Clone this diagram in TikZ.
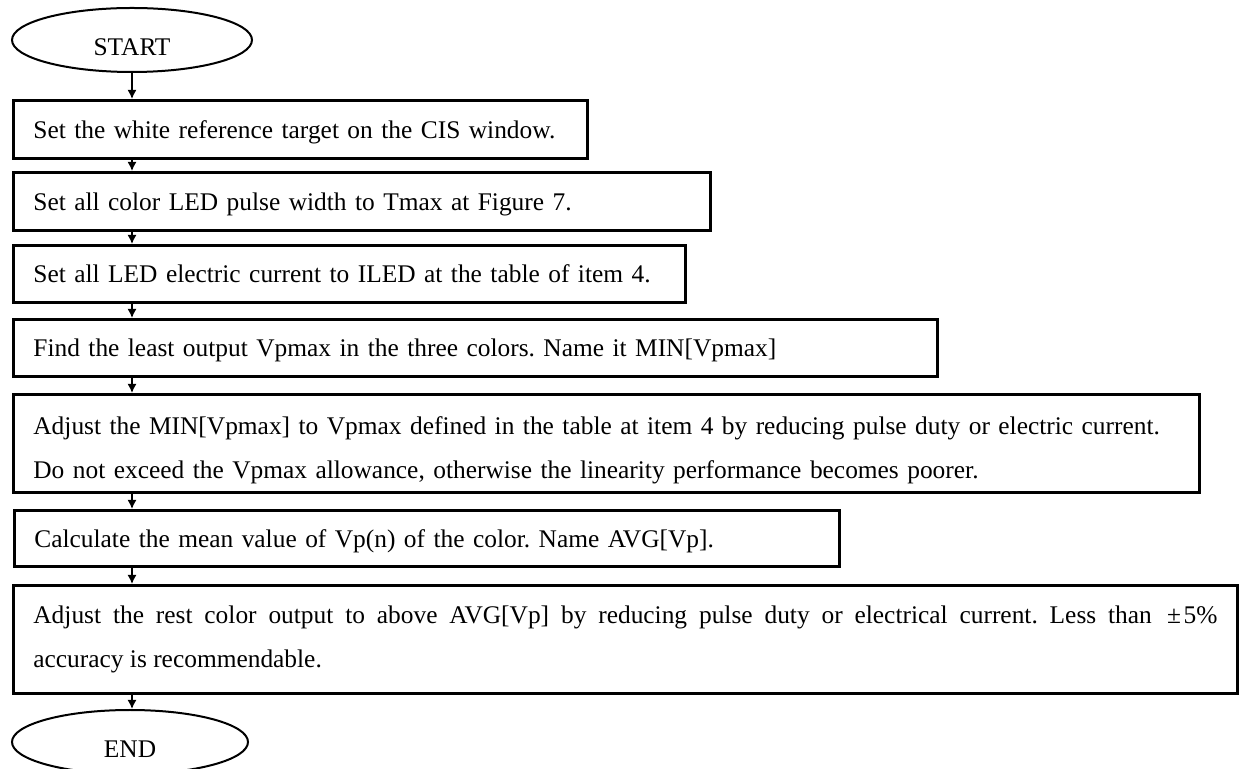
\documentclass[tikz,border=0pt]{standalone}
\usepackage{fontspec}
\setmainfont{Liberation Serif}
\usepackage{tikz}
\usetikzlibrary{shapes.geometric}
\usetikzlibrary{arrows.meta}
\frenchspacing

\begin{document}
\begin{tikzpicture}
      [
        x=0.5pt, y=-0.5pt,
        font=\fontsize{12.7}{22}\selectfont,
        term/.style={ellipse,draw,line width=1pt,minimum height=32pt,
          inner sep=0pt,text height=16pt,text depth=0pt},
        stepbox/.style={draw,line width=1.4pt,anchor=north west,
          inner xsep=10pt,inner ysep=0pt,align=left},
        onestep/.style={stepbox,text depth=0pt},
        flow/.style={line width=0.75pt,-{Latex[length=4.5pt,width=4.5pt]}}
      ]

      \useasboundingbox (0,0) rectangle (1243,769);

      \node[term,minimum width=120pt] (Start) at (132,40) {START};

      \node[onestep,text width=267pt,minimum height=29pt] (B1) at (12,99)
        {Set the white reference target on the CIS window.};
      \node[onestep,text width=328.5pt,minimum height=29pt] (B2) at (12,171)
        {Set all color LED pulse width to Tmax at Figure 7.};
      \node[onestep,text width=316pt,minimum height=28.5pt] (B3) at (12,244)
        {Set all LED electric current to ILED at the table of item 4.};
      \node[onestep,text width=442pt,minimum height=28.5pt] (B4) at (12,318)
        {Find the least output Vpmax in the three colors. Name it MIN[Vpmax]};
      \node[stepbox,text width=573pt,minimum height=49pt] (B5) at (12,393)
        {\rule{0pt}{16pt}Adjust the MIN[Vpmax] to Vpmax defined in the table at item 4 by reducing pulse duty or electric current.\\
         Do not exceed the Vpmax allowance, otherwise the linearity performance becomes poorer.};
      \node[onestep,text width=392.5pt,minimum height=28pt] (B6) at (13,509)
        {Calculate the mean value of Vp(n) of the color. Name AVG[Vp].};
      \node[stepbox,text width=592pt,minimum height=54pt,align=justify] (B7) at (12,584)
        {Adjust the rest color output to above AVG[Vp] by reducing pulse duty or electrical current. Less than\hspace{0.6em}±\hspace{0.1em}5\%\linebreak
         accuracy is recommendable.};

      \node[term,minimum width=118pt] (End) at (130,742) {END};

      \draw[flow] (Start.south) -- (Start.south |- B1.north);
      \draw[flow] (Start.south |- B1.south) -- (Start.south |- B2.north);
      \draw[flow] (Start.south |- B2.south) -- (Start.south |- B3.north);
      \draw[flow] (Start.south |- B3.south) -- (Start.south |- B4.north);
      \draw[flow] (Start.south |- B4.south) -- (Start.south |- B5.north);
      \draw[flow] (Start.south |- B5.south) -- (Start.south |- B6.north);
      \draw[flow] (Start.south |- B6.south) -- (Start.south |- B7.north);
      \draw[flow] (Start.south |- B7.south) -- (Start.south |- End.north);
    \end{tikzpicture}
\end{document}
